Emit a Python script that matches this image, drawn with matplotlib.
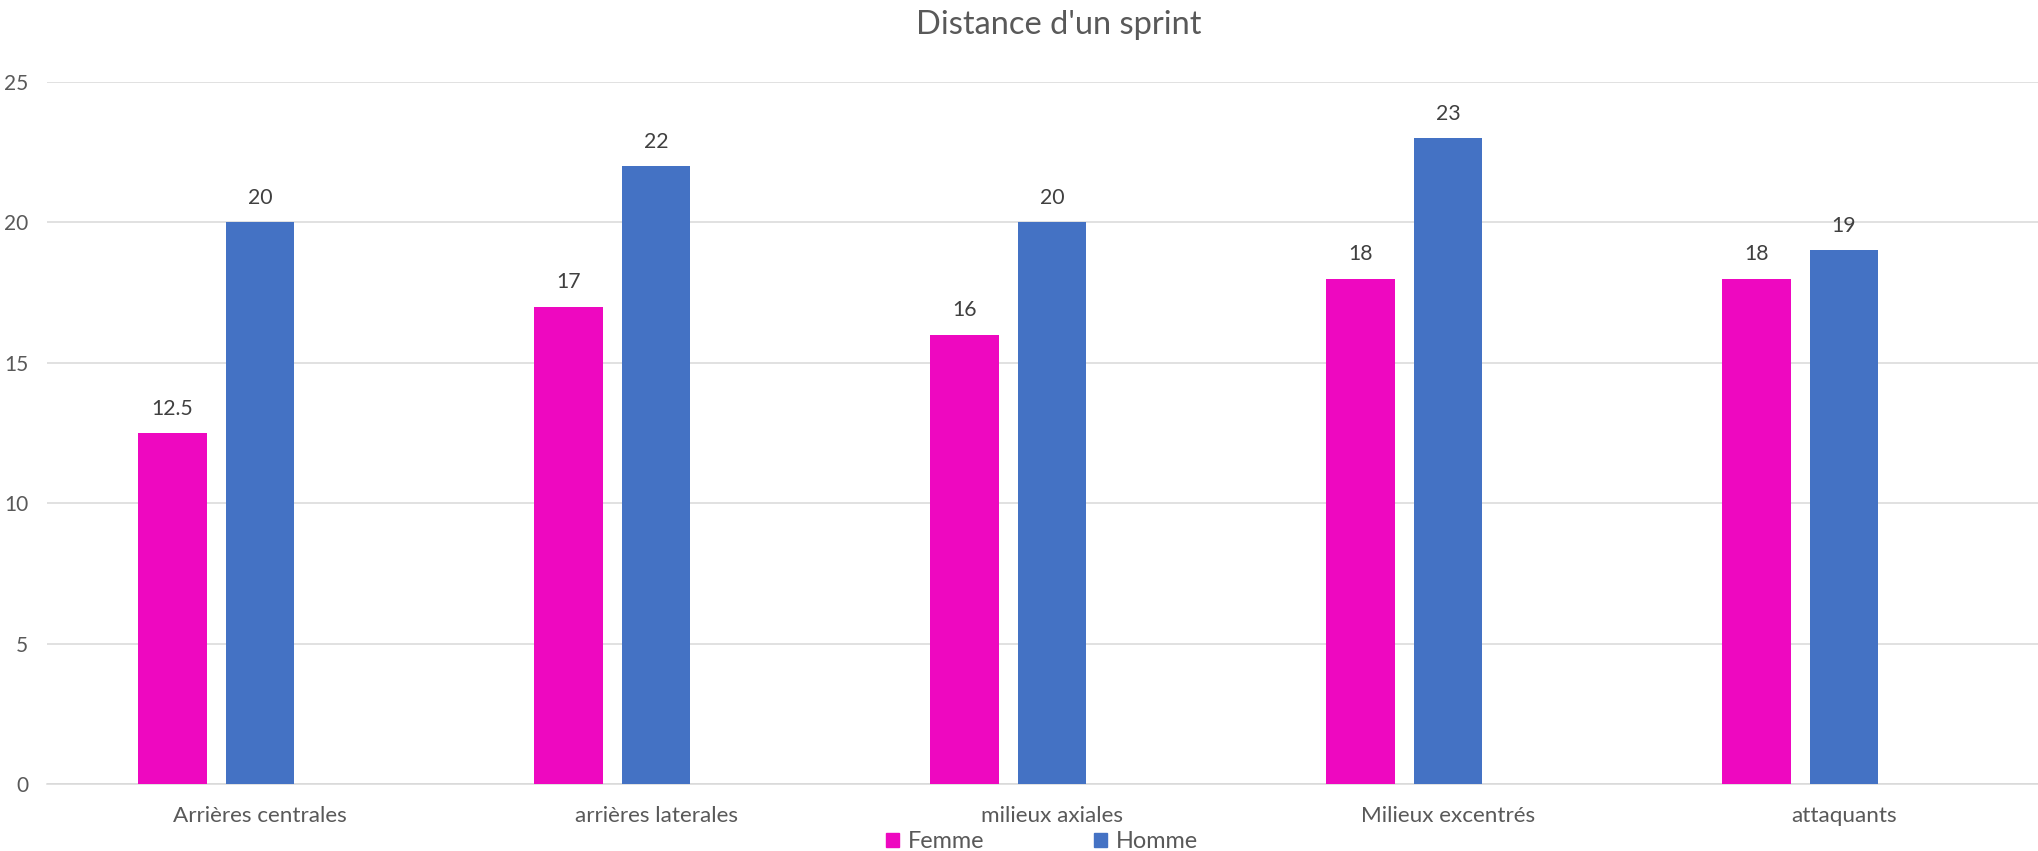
import matplotlib.pyplot as plt
import matplotlib.patches as patches
import numpy as np

plt.rcParams['font.family'] = ['Lato', 'DejaVu Sans']

# Sprint distance per position
postes = ['Arrières centrales', 'arrières laterales', 'milieux axiales',
          'Milieux excentrés', 'attaquants']
femme = [12.5, 17, 16, 18, 18]
homme = [20, 22, 20, 23, 19]

rose = '#EE08C0'
bleu = '#4472C4'

fig = plt.figure(figsize=(20.38, 8.51), dpi=100)
ax = fig.add_axes([47 / 2038, 67 / 851, 1991 / 2038, 702 / 851])

x = np.arange(len(postes))
w = 0.174
step = 0.222

b1 = ax.bar(x - step, femme, w, color=rose, zorder=3)
b2 = ax.bar(x, homme, w, color=bleu, zorder=3)

# value labels above each bar
for bars, vals in ((b1, femme), (b2, homme)):
    for rect, v in zip(bars, vals):
        ax.annotate(f'{v:g}', (rect.get_x() + rect.get_width() / 2, v),
                    xytext=(0, 17.5), textcoords='offset points',
                    ha='center', va='center', fontsize=15.3, color='#404040')

ax.set_xlim(-0.538, 4.49)
ax.set_ylim(0, 25)
ax.set_yticks([0, 5, 10, 15, 20, 25])
ax.set_xticks(x)
ax.set_xticklabels(postes)

ax.yaxis.grid(True, color='#D9D9D9', linewidth=1.1, zorder=0)
ax.set_axisbelow(True)
for s in ['top', 'left', 'right']:
    ax.spines[s].set_visible(False)
ax.spines['bottom'].set_color('#D9D9D9')
ax.spines['bottom'].set_linewidth(1.1)

ax.tick_params(axis='y', length=0, pad=13.5, labelsize=15, labelcolor='#595959')
ax.tick_params(axis='x', length=0, pad=16, labelsize=16.2, labelcolor='#595959')

fig.text(1059 / 2038, 1 - 25 / 851, "Distance d'un sprint", ha='center', va='center',
         fontsize=23.5, color='#595959')

handles = [patches.Patch(color=rose, label='Femme'),
           patches.Patch(color=bleu, label='Homme')]
fig.legend(handles=handles, loc='center', bbox_to_anchor=(1042 / 2038, 1 - 842 / 851),
           ncol=2, frameon=False, fontsize=16.9, labelcolor='#595959',
           handlelength=0.55, handleheight=0.55, handletextpad=0.35,
           columnspacing=4.7, borderpad=0)

fig.savefig('out.png', dpi=100)
